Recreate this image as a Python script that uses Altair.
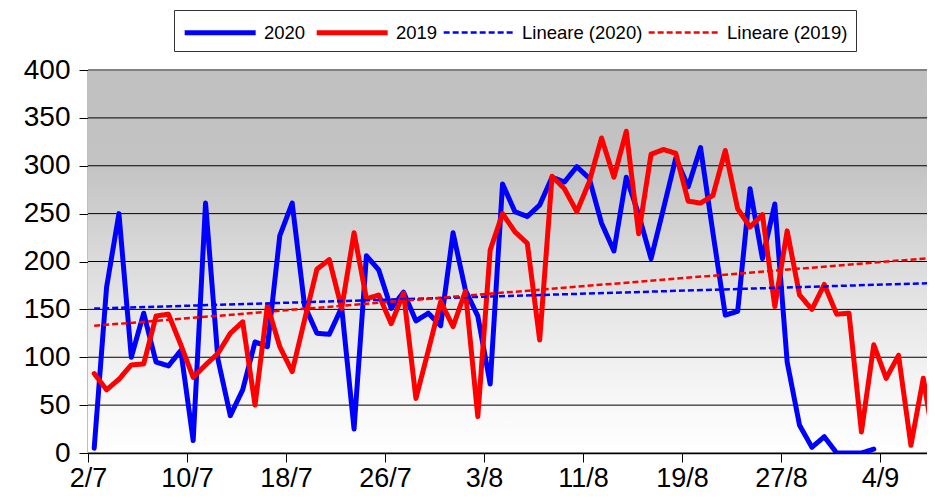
import json
import altair as alt
import pandas as pd

# ---- data ----
tick_labels = ["2/7", "10/7", "18/7", "26/7", "3/8", "11/8", "19/8", "27/8", "4/9"]
y_ticks = [0, 50, 100, 150, 200, 250, 300, 350, 400]

values_2020 = [5, 173, 250, 100, 146, 95, 91, 107, 13, 261,
               98, 39, 66, 116, 111, 227, 261, 154, 125, 124,
               152, 25, 206, 191, 151, 168, 138, 146, 133, 230,
               170, 143, 72, 281, 252, 247, 259, 288, 283, 299,
               287, 240, 211, 288, 249, 203, 255, 308, 278, 319,
               230, 144, 148, 276, 203, 260, 95, 29, 6, 17,
               0, 0, 0, 4]

values_2019 = [83, 66, 77, 92, 93, 143, 145, 113, 79, 92,
               104, 125, 137, 50, 154, 111, 85, 139, 192, 202,
               151, 230, 161, 165, 135, 167, 57, 107, 158, 132,
               169, 38, 212, 250, 231, 219, 118, 289, 276, 252,
               283, 329, 288, 336, 229, 312, 317, 313, 263, 261,
               269, 316, 255, 236, 249, 153, 232, 165, 150, 176,
               145, 146, 22, 113, 78, 102, 8, 78, 0]

series_names = ["2020", "2019"]
series_domain = ["2020", "2019", "Lineare (2020)", "Lineare (2019)"]

rows = []
for name, vals in zip(series_names, [values_2020, values_2019]):
    for i, v in enumerate(vals):
        rows.append({"series": name, "day": i, "value": v})
df = pd.DataFrame(rows)

W, H = 839, 383
FONT = "Liberation Sans"

color_scale = alt.Scale(domain=series_domain,
                        range=["#0000ff", "#ff0000", "#0000ff", "#ff0000"])
dash_scale = alt.Scale(domain=series_domain,
                       range=[[1, 0], [1, 0], [6, 3], [6, 3]])
width_scale = alt.Scale(type="ordinal", domain=series_domain, range=[5, 5, 2.5, 2.5])

x_scale = alt.Scale(domain=[-0.5, 67.3], nice=False, zero=False)
y_scale = alt.Scale(domain=[0, 400], nice=False)

label_expr = json.dumps(tick_labels) + "[round((datum.value + 0.5) / 8)]"
common_axis = dict(title=None, grid=False, domainColor="black", domainWidth=1.5,
                   tickColor="black", tickSize=9, labelFont=FONT,
                   labelColor="black")
x_axis = alt.Axis(values=[-0.5 + 8 * k for k in range(len(tick_labels))],
                  labelExpr=label_expr, labelPadding=3, labelFlush=False,
                  labelFontSize=27, **common_axis)
y_axis = alt.Axis(values=y_ticks, labelPadding=9, labelFontSize=28, **common_axis)

# legend symbol: a horizontal line drawn from the entry start, ~71px long
legend = alt.Legend(orient="none", legendX=86, legendY=-60, direction="horizontal",
                    title=None, symbolType="M-1,0H5", symbolSize=560,
                    labelFontSize=18.5, labelFont=FONT, labelColor="black",
                    strokeColor="#333333", fillColor="white", padding=8,
                    columnPadding=0, labelOffset=53)

gradient = alt.LinearGradient(
    gradient="linear", x1=0, x2=0, y1=0, y2=1,
    stops=[alt.GradientStop(offset=0, color="#c0c0c0"),
           alt.GradientStop(offset=0.25, color="#c3c3c3"),
           alt.GradientStop(offset=0.45, color="#d6d6d6"),
           alt.GradientStop(offset=0.65, color="#e8e8e8"),
           alt.GradientStop(offset=0.85, color="#f6f6f6"),
           alt.GradientStop(offset=1, color="#ffffff")])

bg = alt.Chart(pd.DataFrame({"a": [0]})).mark_rect(fill=gradient).encode(
    x=alt.value(0), x2=alt.value(W), y=alt.value(0), y2=alt.value(H))

grid = alt.Chart(pd.DataFrame({"tick": y_ticks})).mark_rule(
    color="black", strokeWidth=1).encode(
    y=alt.Y("tick:Q", scale=y_scale, axis=y_axis))

top_border = alt.Chart(pd.DataFrame({"a": [0]})).mark_rule(
    color="#808080", strokeWidth=2).encode(
    x=alt.value(0), x2=alt.value(W), y=alt.value(0))

enc = dict(
    x=alt.X("day:Q", scale=x_scale, axis=x_axis),
    y=alt.Y("value:Q", scale=y_scale, axis=y_axis),
    color=alt.Color("series:N", scale=color_scale, legend=legend),
    strokeDash=alt.StrokeDash("series:N", scale=dash_scale, legend=legend),
    strokeWidth=alt.StrokeWidth("series:N", scale=width_scale, legend=legend),
    detail="series:N",
)

lines = alt.Chart(df).mark_line(clip=True, strokeJoin="round", strokeCap="round").encode(**enc)

trends = alt.Chart(df).transform_regression(
    "day", "value", groupby=["series"], extent=[0, 68]
).transform_calculate(
    series="'Lineare (' + datum.series + ')'"
).mark_line(clip=True).encode(**enc)

chart = alt.layer(bg, grid, lines, trends, top_border).properties(
    width=W, height=H,
    padding={"left": 80, "top": 62, "right": 0, "bottom": 40},
    autosize=alt.AutoSizeParams(type="none"),
    background="white",
).configure_view(stroke=None)

chart.save("out.html", embed_options={"renderer": "svg", "actions": False})
